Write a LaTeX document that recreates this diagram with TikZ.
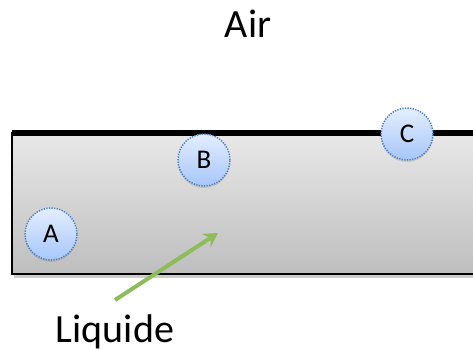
\documentclass[tikz,border=0pt]{standalone}
\usepackage{fontspec}
\setmainfont{Carlito}
\usetikzlibrary{shadows,arrows.meta}
\definecolor{liq1}{HTML}{E8E8E8}
\definecolor{liq2}{HTML}{BEBEBE}
\definecolor{bub1}{HTML}{E4EEFF}
\definecolor{bub2}{HTML}{A6C6FA}
\definecolor{bubline}{HTML}{4F81BD}
\definecolor{arrowgreen}{HTML}{8FBC5A}
\tikzset{
  bubble/.style={circle, minimum size=52pt, inner sep=0pt, draw=bubline, dash pattern=on 1.3pt off 1.3pt, line width=1.5pt,
    top color=bub1, bottom color=bub2, font=\fontsize{27}{27}\selectfont,
    drop shadow={shadow xshift=0pt, shadow yshift=-2pt, opacity=0.25}},
  bigtext/.style={font=\fontsize{40}{40}\selectfont, inner sep=0pt},
}
\begin{document}
\begin{tikzpicture}[x=1pt,y=-1pt]
\useasboundingbox (0,0) rectangle (473,350);
\fill[white] (0,0) rectangle (473,350);
% liquid
\fill[black, opacity=0.2] (14,137) rectangle (480,278);
\shade[top color=liq1, bottom color=liq2, draw=black, line width=1.5pt] (12,133) rectangle (480,274);
\draw[line width=5.5pt] (12,133) -- (480,133);
\node[bigtext, anchor=base] (air) at (248,38) {Air};
\node[bigtext, anchor=base] (liq) at (115,342) {Liquide};
\coordinate (tail) at (115,300);
\coordinate (tip) at (218,233);
\draw[arrowgreen, line width=4pt, -{Stealth[length=14pt,width=16pt,inset=5pt]}] (tail) -- (tip);
\node[bubble] (A) at (51,234) {A};
\node[bubble] (B) at (204,160) {B};
\node[bubble] (C) at (407,134) {C};
\end{tikzpicture}
\end{document}
